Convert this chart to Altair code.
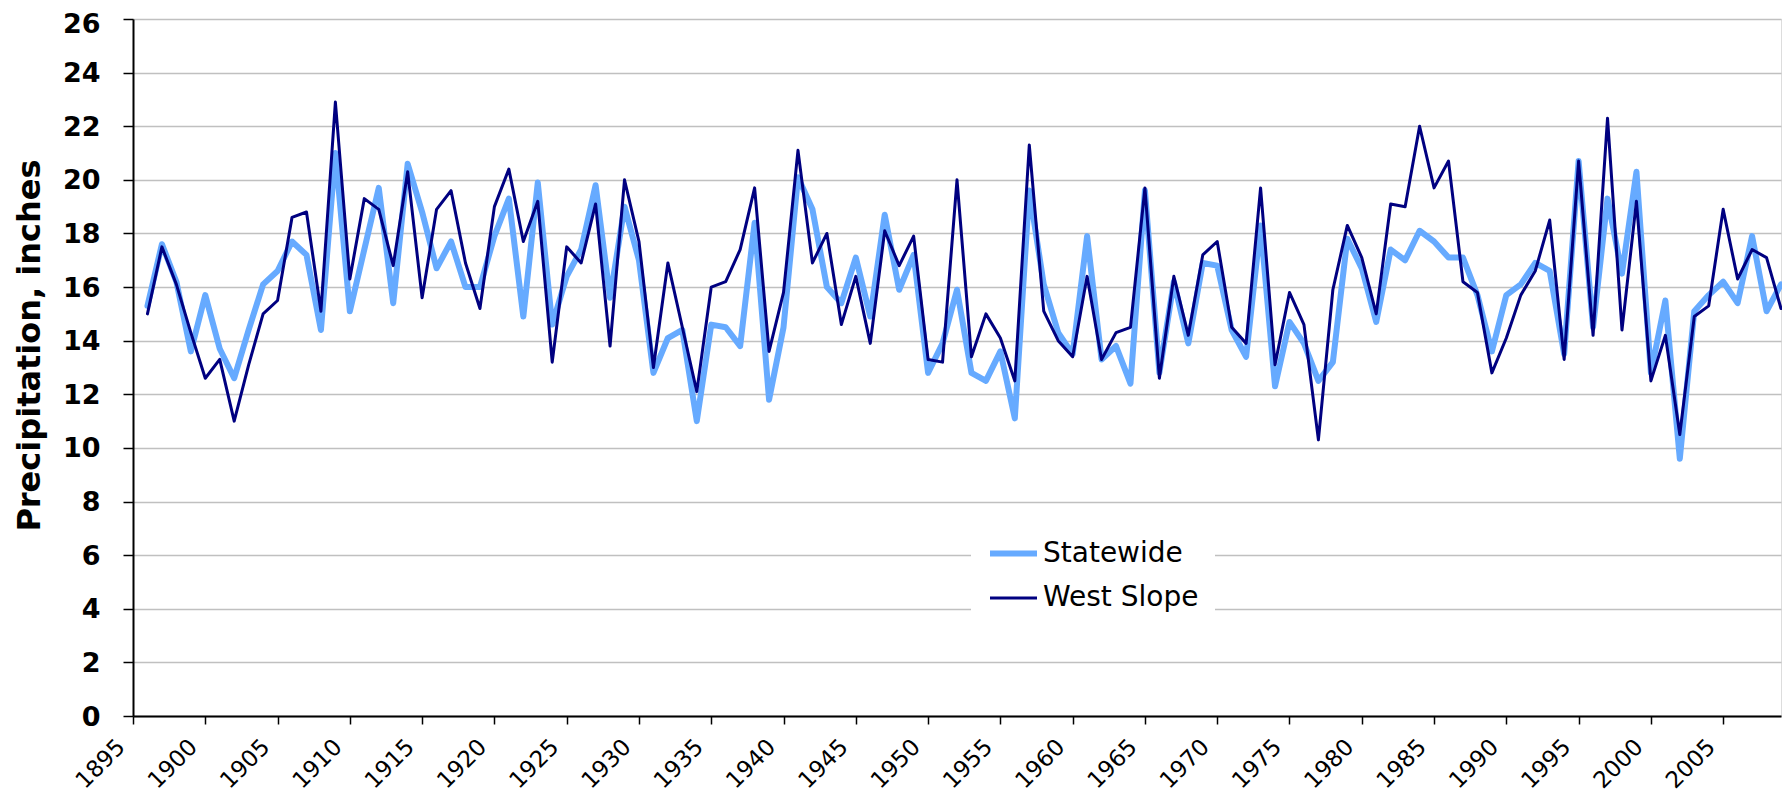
import altair as alt
import pandas as pd

years = list(range(1896, 2010))

statewide = [
    15.3, 17.6, 16.2, 13.6, 15.7, 13.7, 12.6, 14.4, 16.1, 16.6,   # 1896-1905
    17.7, 17.2, 14.4, 21.0, 15.1, 17.4, 19.7, 15.4, 20.6, 18.8,   # 1906-1915
    16.7, 17.7, 16.0, 16.0, 17.9, 19.3, 14.9, 19.9, 14.6, 16.4,   # 1916-1925
    17.4, 19.8, 15.6, 19.0, 17.0, 12.8, 14.1, 14.4, 11.0, 14.6,   # 1926-1935
    14.5, 13.8, 18.4, 11.8, 14.5, 20.1, 18.9, 16.0, 15.4, 17.1,   # 1936-1945
    14.9, 18.7, 15.9, 17.2, 12.8, 13.9, 15.9, 12.8, 12.5, 13.6,   # 1946-1955
    11.1, 19.6, 16.1, 14.3, 13.5, 17.9, 13.3, 13.8, 12.4, 19.6,   # 1956-1965
    12.8, 16.2, 13.9, 16.9, 16.8, 14.4, 13.4, 18.3, 12.3, 14.7,   # 1966-1975
    13.9, 12.5, 13.2, 17.8, 16.7, 14.7, 17.4, 17.0, 18.1, 17.7,   # 1976-1985
    17.1, 17.1, 15.7, 13.6, 15.7, 16.1, 16.9, 16.6, 13.5, 20.7,   # 1986-1995
    14.5, 19.3, 16.5, 20.3, 12.8, 15.5, 9.6, 15.1, 15.7, 16.2,    # 1996-2005
    15.4, 17.9, 15.1, 16.1,                                       # 2006-2009
]

west_slope = [
    15.0, 17.5, 16.1, 14.3, 12.6, 13.3, 11.0, 13.1, 15.0, 15.5,   # 1896-1905
    18.6, 18.8, 15.1, 22.9, 16.3, 19.3, 18.9, 16.8, 20.3, 15.6,   # 1906-1915
    18.9, 19.6, 16.9, 15.2, 19.0, 20.4, 17.7, 19.2, 13.2, 17.5,   # 1916-1925
    16.9, 19.1, 13.8, 20.0, 17.7, 13.0, 16.9, 14.5, 12.1, 16.0,   # 1926-1935
    16.2, 17.4, 19.7, 13.6, 15.8, 21.1, 16.9, 18.0, 14.6, 16.4,   # 1936-1945
    13.9, 18.1, 16.8, 17.9, 13.3, 13.2, 20.0, 13.4, 15.0, 14.1,   # 1946-1955
    12.5, 21.3, 15.1, 14.0, 13.4, 16.4, 13.3, 14.3, 14.5, 19.7,   # 1956-1965
    12.6, 16.4, 14.2, 17.2, 17.7, 14.5, 13.9, 19.7, 13.1, 15.8,   # 1966-1975
    14.6, 10.3, 15.9, 18.3, 17.1, 15.0, 19.1, 19.0, 22.0, 19.7,   # 1976-1985
    20.7, 16.2, 15.8, 12.8, 14.1, 15.7, 16.6, 18.5, 13.3, 20.7,   # 1986-1995
    14.2, 22.3, 14.4, 19.2, 12.5, 14.2, 10.5, 14.9, 15.3, 18.9,   # 1996-2005
    16.3, 17.4, 17.1, 15.2,                                       # 2006-2009
]

series_names = ["Statewide", "West Slope"]
series_colors = ["#66aaff", "#000080"]
series_widths = [6, 3]
x_ticks = list(range(1895, 2006, 5))
y_ticks = list(range(0, 27, 2))

df = pd.DataFrame({
    "year": years * 2,
    "precip": statewide + west_slope,
    "series": [series_names[0]] * len(years) + [series_names[1]] * len(years),
})

FONT = "DejaVu Sans"

legend = alt.Legend(
    title=None,
    orient="none",
    legendX=838,
    legendY=492,
    fillColor="white",
    padding=16,
    symbolType="stroke",
    symbolSize=2209,
    symbolOpacity=1,
    labelFont=FONT,
    labelFontSize=28,
    labelColor="black",
    labelOffset=3,
    rowPadding=5,
)

chart = alt.Chart(df).mark_line(strokeJoin="round", strokeCap="round").encode(
    x=alt.X(
        "year:Q",
        scale=alt.Scale(domain=[1895, 2009], nice=False, zero=False),
        axis=alt.Axis(
            values=x_ticks, format="d", title=None, grid=False,
            labelAngle=315, labelAlign="right", labelBaseline="middle",
            labelFont=FONT, labelFontSize=23, labelColor="black",
            labelPadding=19, labelOffset=-12, labelOverlap=False, labelFlush=False,
            domainColor="black", domainWidth=2,
            tickColor="black", tickWidth=1.5, tickSize=8,
        ),
    ),
    y=alt.Y(
        "precip:Q",
        scale=alt.Scale(domain=[0, 26], nice=False, zero=True),
        axis=alt.Axis(
            values=y_ticks, title="Precipitation, inches",
            grid=True, gridColor="#c0c0c0", gridWidth=1.5,
            labelFont=FONT, labelFontSize=27, labelFontWeight="bold",
            labelColor="black", labelPadding=23, labelOverlap=False,
            labelOffset={"condition": {"test": "datum.value == 26", "value": 5}, "value": 1},
            domainColor="black", domainWidth=2,
            tickColor="black", tickWidth=1.5, tickSize=10,
            titleFont=FONT, titleFontSize=32, titleFontWeight="bold",
            titleColor="black", titleAngle=270, titleAlign="center",
            titleBaseline="middle", titleX=-104, titleY=326,
        ),
    ),
    color=alt.Color(
        "series:N",
        scale=alt.Scale(domain=series_names, range=series_colors),
        legend=legend,
    ),
    strokeWidth=alt.StrokeWidth(
        "series:N",
        scale=alt.Scale(domain=series_names, range=series_widths),
        legend=legend,
    ),
).properties(
    width=1648,
    height=697,
    padding={"left": 125, "top": 11, "right": 1, "bottom": 79},
    autosize=alt.AutoSizeParams(type="none"),
).configure_view(
    stroke="#808080", strokeWidth=2
).configure(background="white")

chart.save("out.html", embed_options={"renderer": "svg", "actions": False})
